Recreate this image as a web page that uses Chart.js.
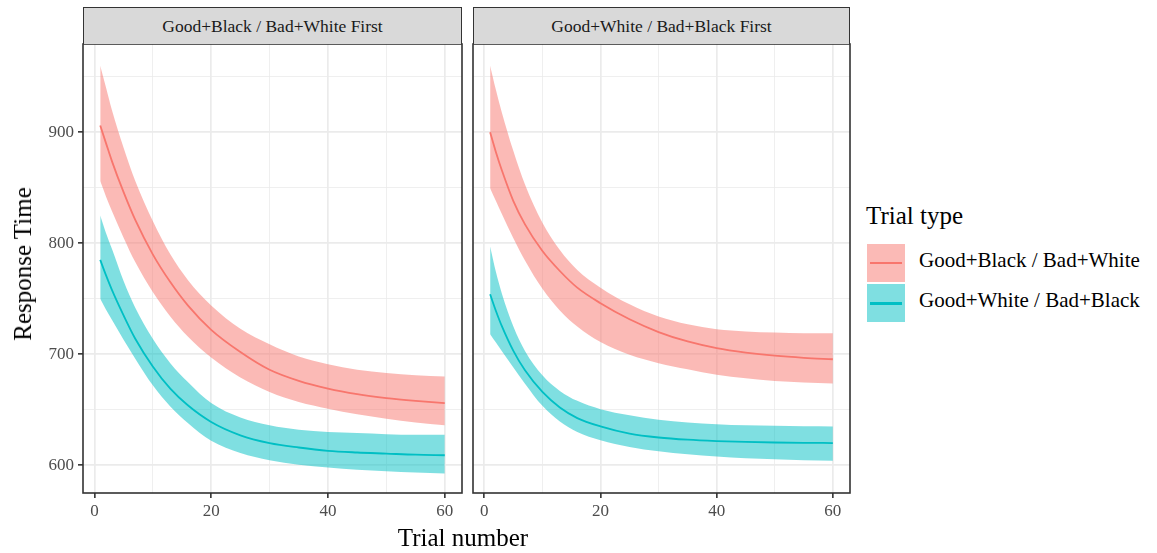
<!DOCTYPE html>
<html>
<head>
<meta charset="utf-8">
<script src="https://cdn.jsdelivr.net/npm/chart.js@4.4.1/dist/chart.umd.min.js"></script>
<style>
  body { margin: 0; background: #fff; font-family: "Liberation Serif", "DejaVu Serif", serif; }
  #wrap { position: relative; width: 1157px; height: 553px; overflow: hidden; }
  canvas { position: absolute; top: 0; }
  .strip {
    position: absolute; top: 7px; height: 37px; box-sizing: border-box;
    background: #d9d9d9; border: 1.6px solid #333; border-bottom: none;
    color: #1a1a1a; font-size: 17.5px; text-align: center; line-height: 36px;
  }
  .axis-title { position: absolute; color: #000; font-size: 25px; white-space: nowrap; }
  .legend-title { position: absolute; left: 866px; top: 202px; font-size: 25px; color: #000; }
  .key { position: absolute; left: 867px; width: 38px; height: 38px; }
  .key span { position: absolute; left: 3px; right: 3px; top: 18px; height: 2px; }
  .key-label { position: absolute; left: 919px; font-size: 21px; color: #000; white-space: nowrap; }
</style>
</head>
<body>
<div id="wrap">
  <canvas id="panel1" width="470" height="553" style="left:0"></canvas>
  <canvas id="panel2" width="394" height="553" style="left:466px"></canvas>

  <div class="strip" id="strip1" style="left:83px;width:379px"></div>
  <div class="strip" id="strip2" style="left:473px;width:377px"></div>

  <div class="axis-title" style="left:23px;top:264px;transform:translate(-50%,-50%) rotate(-90deg)">Response Time</div>
  <div class="axis-title" style="left:463px;top:538px;transform:translate(-50%,-50%)">Trial number</div>

  <div class="legend-title">Trial type</div>
  <div class="key" style="top:244px;background:rgba(248,118,109,0.5)"><span style="background:#F8766D"></span></div>
  <div class="key" style="top:284px;background:rgba(0,191,196,0.5)"><span style="background:#00BFC4;height:2.5px"></span></div>
  <div class="key-label" id="lab1" style="top:248px"></div>
  <div class="key-label" id="lab2" style="top:288px"></div>
</div>

<script>
// facet and series names
const panelTitles = ["Good+Black / Bad+White First", "Good+White / Bad+Black First"];
const seriesNames = ["Good+Black / Bad+White", "Good+White / Bad+Black"];

// trial numbers where the curves were read
const trials = [1, 2, 3, 5, 7, 10, 13, 16, 20, 25, 30, 35, 40, 45, 50, 55, 60];

// ticks
const xTicks = [0, 10, 20, 30, 40, 50, 60];       // labelled: multiples of 20
const yTicks = [600, 650, 700, 750, 800, 850, 900, 950]; // labelled: multiples of 100

// panel 1 : Good+Black / Bad+White First
const p1RedFit  = [906, 890, 874, 846, 821, 790, 765, 744, 722, 702, 686, 676, 669, 664, 660.5, 658, 656];
const p1RedHigh = [960, 940, 920, 886, 856, 820, 790, 767, 744, 723, 709, 698, 691, 686, 683, 681, 680];
const p1RedLow  = [856, 842, 829, 805, 783, 756, 734, 716, 697, 679, 666, 657, 651, 646, 642, 638.5, 636];
const p1TealFit  = [785, 771, 758, 735, 714, 689, 669, 654, 639, 627, 620, 616, 613, 611.5, 610.5, 609.5, 609];
const p1TealHigh = [825, 809, 795, 766, 742, 714, 692, 675, 656, 643, 636, 632, 630, 629, 628, 627.5, 627.5];
const p1TealLow  = [750, 740, 731, 713, 696, 672, 653, 638, 622, 611, 604.5, 600.5, 598, 596, 594.6, 593.5, 592.5];

// panel 2 : Good+White / Bad+Black First
const p2RedFit  = [900, 882, 866, 838, 817, 793, 775, 760, 746, 731.5, 720, 711.5, 705.5, 701.5, 698.7, 696.8, 695.5];
const p2RedHigh = [960, 938, 918, 883, 853, 818.5, 794, 776, 760, 745, 734, 727, 722.5, 720.5, 719.5, 719, 719];
const p2RedLow  = [849.5, 838, 826.5, 804.5, 784.5, 759, 739.5, 725, 711, 699.5, 692, 686.5, 681.5, 678.3, 676, 674.6, 673.7];
const p2TealFit  = [754, 739, 725.5, 703, 685.5, 666, 652, 642.5, 635, 628.5, 625, 623, 621.8, 621, 620.5, 620.2, 620];
const p2TealHigh = [797, 774, 755, 725, 703, 681, 667, 658, 650.5, 645, 641, 638.5, 637, 636, 635.5, 635.2, 635];
const p2TealLow  = [718, 710.5, 703, 688, 673.5, 653.5, 639.5, 630, 622.5, 616.5, 612.5, 609.8, 607.8, 606.3, 605.3, 604.6, 604];

const RED = "#F8766D", TEAL = "#00BFC4";
const RED_FILL = "rgba(248,118,109,0.5)", TEAL_FILL = "rgba(0,191,196,0.5)";

document.getElementById("strip1").textContent = panelTitles[0];
document.getElementById("strip2").textContent = panelTitles[1];
document.getElementById("lab1").textContent = seriesNames[0];
document.getElementById("lab2").textContent = seriesNames[1];

const pts = (ys) => trials.map((t, i) => ({ x: t, y: ys[i] }));

function buildDatasets(redFit, redLow, redHigh, tealFit, tealLow, tealHigh) {
  const base = { pointRadius: 0, cubicInterpolationMode: "monotone", borderWidth: 0 };
  return [
    { ...base, label: "redLow", data: pts(redLow), fill: false, order: 2 },
    { ...base, label: "redHigh", data: pts(redHigh), fill: "-1", backgroundColor: RED_FILL, order: 2 },
    { ...base, label: "tealLow", data: pts(tealLow), fill: false, order: 2 },
    { ...base, label: "tealHigh", data: pts(tealHigh), fill: "-1", backgroundColor: TEAL_FILL, order: 2 },
    { ...base, label: seriesNames[0], data: pts(redFit), borderColor: RED, borderWidth: 1.8, fill: false, order: 0 },
    { ...base, label: seriesNames[1], data: pts(tealFit), borderColor: TEAL, borderWidth: 1.8, fill: false, order: 0 },
  ];
}

// ggplot-like panel frame
const panelBorder = {
  id: "panelBorder",
  afterDraw(chart) {
    const { ctx, chartArea: a } = chart;
    ctx.save();
    ctx.strokeStyle = "#333333";
    ctx.lineWidth = 1.6;
    ctx.strokeRect(a.left, a.top, a.right - a.left, a.bottom - a.top);
    ctx.restore();
  },
};

function gridOpts(isMajor) {
  return {
    color: "#EBEBEB",
    lineWidth: (c) => (isMajor(c.tick.value) ? 1.7 : 0.8),
    tickColor: (c) => (isMajor(c.tick.value) ? "#333333" : "rgba(0,0,0,0)"),
    tickWidth: 1.6,
    tickLength: 5,
  };
}

function makePanel(id, datasets, showY, yAxisWidth, rightPad) {
  const tickFont = { family: "'Liberation Serif', serif", size: 17 };
  new Chart(document.getElementById(id), {
    type: "line",
    data: { datasets },
    plugins: [panelBorder],
    options: {
      responsive: false,
      animation: false,
      layout: { padding: { top: 44, right: rightPad, left: 0, bottom: 0 } },
      plugins: { legend: { display: false }, tooltip: { enabled: false } },
      scales: {
        x: {
          type: "linear",
          min: -1.95,
          max: 62.95,
          afterBuildTicks: (s) => { s.ticks = xTicks.map((v) => ({ value: v })); },
          afterFit: (s) => { s.height = 60; },
          border: { display: false },
          grid: gridOpts((v) => v % 20 === 0),
          ticks: {
            autoSkip: false, maxRotation: 0, padding: 3,
            color: "#4D4D4D", font: tickFont,
            callback: (v) => (v % 20 === 0 ? v : ""),
          },
        },
        y: {
          type: "linear",
          min: 575,
          max: 979.5,
          afterBuildTicks: (s) => { s.ticks = yTicks.map((v) => ({ value: v })); },
          afterFit: (s) => { s.width = yAxisWidth; },
          border: { display: false },
          grid: showY ? gridOpts((v) => v % 100 === 0)
                      : { ...gridOpts((v) => v % 100 === 0), drawTicks: false },
          ticks: {
            display: showY, autoSkip: false, padding: 4,
            color: "#4D4D4D", font: tickFont,
            callback: (v) => (v % 100 === 0 ? v : ""),
          },
        },
      },
    },
  });
}

makePanel("panel1", buildDatasets(p1RedFit, p1RedLow, p1RedHigh, p1TealFit, p1TealLow, p1TealHigh), true, 83, 8);
makePanel("panel2", buildDatasets(p2RedFit, p2RedLow, p2RedHigh, p2TealFit, p2TealLow, p2TealHigh), false, 7, 10);
</script>
</body>
</html>
